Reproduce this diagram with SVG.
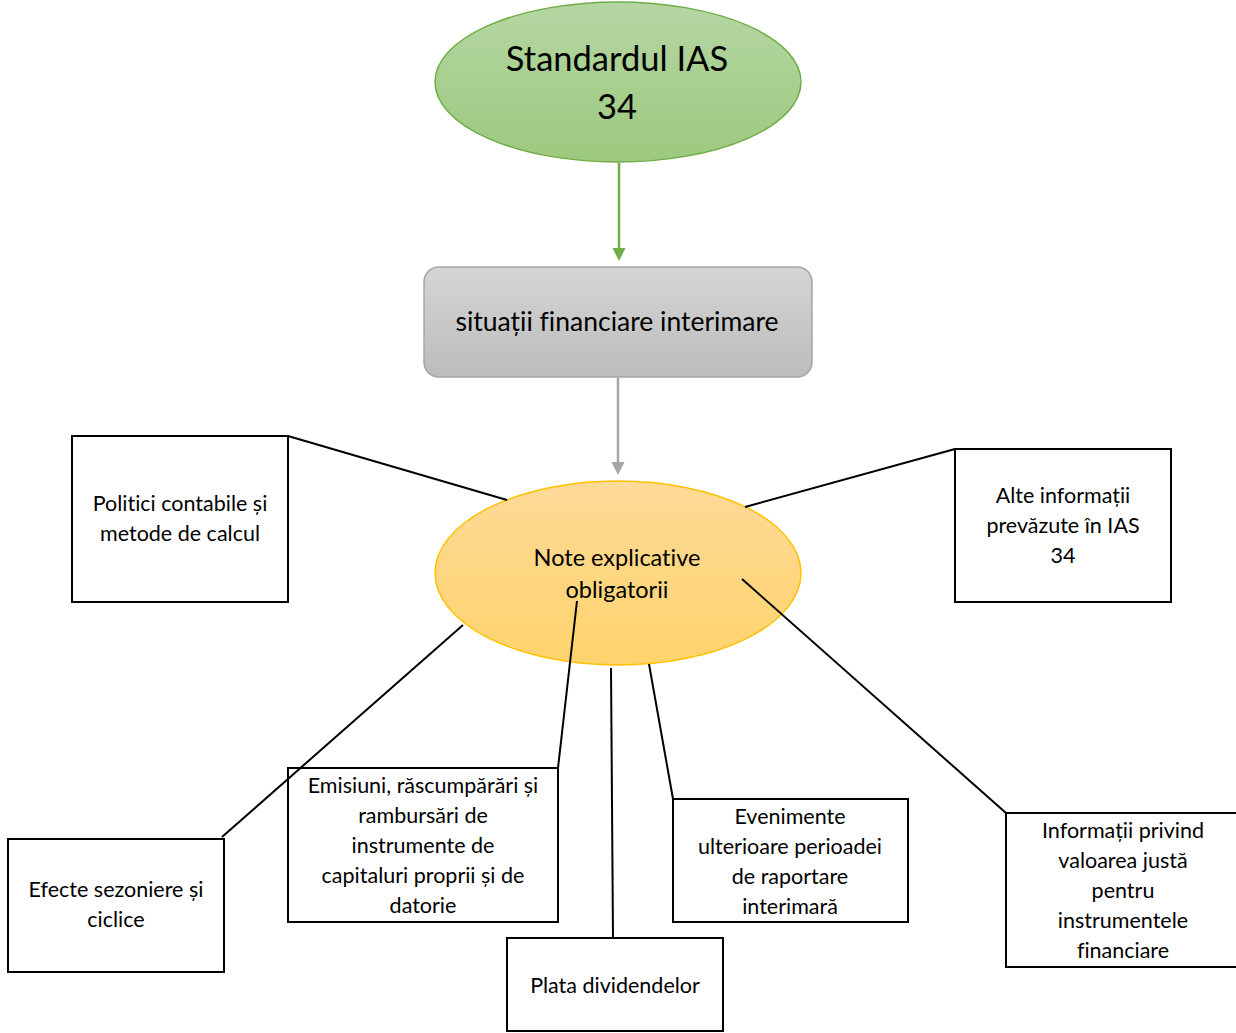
<svg xmlns="http://www.w3.org/2000/svg" width="1236" height="1033" viewBox="0 0 1236 1033">
<style>
text{font-family:Lato,"Liberation Sans",sans-serif;fill:#000;text-anchor:middle;font-variant-ligatures:none;font-feature-settings:"liga" 0}
.t{font-size:21.5px}
.box{fill:#fff;stroke:#000;stroke-width:2}
.ln{stroke:#000;stroke-width:2;fill:none}
</style>
<defs>
<linearGradient id="gG" x1="0" y1="0" x2="0" y2="1"><stop offset="0" stop-color="#b5d6a2"/><stop offset="1" stop-color="#9cc97f"/></linearGradient>
<linearGradient id="gY" x1="0" y1="0" x2="0" y2="1"><stop offset="0" stop-color="#fdda98"/><stop offset="1" stop-color="#ffd36c"/></linearGradient>
<linearGradient id="gR" x1="0" y1="0" x2="0" y2="1"><stop offset="0" stop-color="#d5d5d5"/><stop offset="1" stop-color="#bcbcbc"/></linearGradient>
</defs>
<g id="n-ias">
<ellipse cx="618" cy="82" rx="183" ry="80" fill="url(#gG)" stroke="#70ad47" stroke-width="1.5"/>
<text x="617" y="71" style="font-size:34.5px">Standardul IAS</text>
<text x="617" y="119" style="font-size:34.5px">34</text>
</g>
<g id="n-sit">
<rect x="424" y="267" width="388" height="110" rx="15" fill="url(#gR)" stroke="#a5a5a5" stroke-width="1.5"/>
<text x="617" y="331" style="font-size:26.5px">situații financiare interimare</text>
</g>
<g id="n-note">
<ellipse cx="618" cy="573" rx="183" ry="92" fill="url(#gY)" stroke="#ffc000" stroke-width="1.5"/>
<text x="617" y="566" style="font-size:23.5px">Note explicative</text>
<text x="617" y="598" style="font-size:23.5px">obligatorii</text>
</g>
<g id="n-politici">
<rect class="box" x="72" y="436" width="216" height="166"/>
<text class="t" x="180" y="511">Politici contabile și</text>
<text class="t" x="180" y="541">metode de calcul</text>
</g>
<g id="n-alte">
<rect class="box" x="955" y="449" width="216" height="153"/>
<text class="t" x="1063" y="503">Alte informații</text>
<text class="t" x="1063" y="533">prevăzute în IAS</text>
<text class="t" x="1063" y="563">34</text>
</g>
<g id="n-efecte">
<rect class="box" x="8" y="839" width="216" height="133"/>
<text class="t" x="116" y="897">Efecte sezoniere și</text>
<text class="t" x="116" y="927">ciclice</text>
</g>
<g id="n-emisiuni">
<rect class="box" x="288" y="768" width="270" height="154"/>
<text class="t" x="423" y="793">Emisiuni, răscumpărări și</text>
<text class="t" x="423" y="823">rambursări de</text>
<text class="t" x="423" y="853">instrumente de</text>
<text class="t" x="423" y="883">capitaluri proprii și de</text>
<text class="t" x="423" y="913">datorie</text>
</g>
<g id="n-plata">
<rect class="box" x="507" y="938" width="216" height="93"/>
<text class="t" x="615" y="993">Plata dividendelor</text>
</g>
<g id="n-evenimente">
<rect class="box" x="673" y="799" width="235" height="123"/>
<text class="t" x="790" y="824">Evenimente</text>
<text class="t" x="790" y="854">ulterioare perioadei</text>
<text class="t" x="790" y="884">de raportare</text>
<text class="t" x="790" y="914">interimară</text>
</g>
<g id="n-info">
<rect class="box" x="1006" y="813" width="235" height="154"/>
<text class="t" x="1123" y="838">Informații privind</text>
<text class="t" x="1123" y="868">valoarea justă</text>
<text class="t" x="1123" y="898">pentru</text>
<text class="t" x="1123" y="928">instrumentele</text>
<text class="t" x="1123" y="958">financiare</text>
</g>
<g id="connectors">
<line x1="619" y1="163" x2="619" y2="250" stroke="#70ad47" stroke-width="2.5"/>
<path d="M612.5,248 L625.5,248 L619,261 Z" fill="#70ad47"/>
<line x1="618" y1="378" x2="618" y2="464" stroke="#a5a5a5" stroke-width="2.5"/>
<path d="M611.5,462 L624.5,462 L618,475 Z" fill="#a5a5a5"/>
<line class="ln" x1="288" y1="436" x2="507" y2="500"/>
<line class="ln" x1="955" y1="449" x2="745" y2="507"/>
<line class="ln" x1="463" y1="625" x2="222" y2="837"/>
<line class="ln" x1="577" y1="601" x2="558" y2="768"/>
<line class="ln" x1="611" y1="668" x2="613" y2="938"/>
<line class="ln" x1="649" y1="664" x2="673" y2="799"/>
<line class="ln" x1="742" y1="579" x2="1006" y2="813"/>
</g>
</svg>
